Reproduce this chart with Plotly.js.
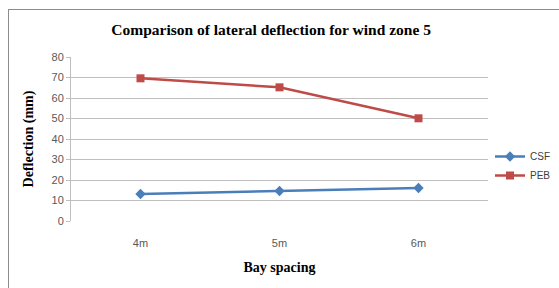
<!DOCTYPE html>
<html><head><meta charset="utf-8">
<script src="https://cdn.plot.ly/plotly-3.0.1.min.js"></script>
<style>
html,body{margin:0;padding:0;background:#fff;overflow:hidden}
#frame{position:absolute;left:8px;top:9px;width:600px;height:300px;border:1px solid #8c8c8c;box-sizing:border-box}
#chart{position:absolute;left:0;top:0;width:559px;height:288px}
</style></head>
<body>
<div id="frame"></div>
<div id="chart"></div>
<script>
const categories = ["4m", "5m", "6m"];
const csfValues = [13.2, 14.6, 16.1];
const pebValues = [69.6, 65.2, 50.1];
const yTicks = [0, 10, 20, 30, 40, 50, 60, 70, 80];

const traces = [
  {x: categories, y: csfValues, name: "CSF", type: "scatter", mode: "lines+markers",
   line: {color: "#4a7ebb", width: 2.5}, marker: {symbol: "diamond", size: 8, color: "#4a7ebb"}},
  {x: categories, y: pebValues, name: "PEB", type: "scatter", mode: "lines+markers",
   line: {color: "#be4b48", width: 2.5}, marker: {symbol: "square", size: 8, color: "#be4b48"}}
];

const layout = {
  width: 559, height: 288,
  paper_bgcolor: "rgba(0,0,0,0)", plot_bgcolor: "rgba(0,0,0,0)",
  margin: {l: 71, r: 71, t: 57, b: 67, autoexpand: false},
  title: {text: "<b>Comparison of lateral deflection for wind zone 5</b>",
    font: {family: "Liberation Serif, Times New Roman, serif", size: 15.5, color: "#000"},
    x: 0.485, xanchor: "center", y: 1 - 30/288, yanchor: "middle"},
  xaxis: {type: "category", range: [-0.5, 2.5], showgrid: false, zeroline: false,
    showline: false, ticks: "", ticklabelstandoff: 14,
    tickfont: {family: "Liberation Sans, sans-serif", size: 11, color: "#595959"},
    title: {text: "<b>Bay spacing</b>", font: {family: "Liberation Serif, serif", size: 14, color: "#000"}, standoff: 14}},
  yaxis: {range: [0, 80], tickvals: yTicks, showgrid: true, gridcolor: "#bfbfbf", gridwidth: 1,
    zeroline: false, showline: true, linecolor: "#bfbfbf", ticks: "outside", ticklen: 4, tickcolor: "#bfbfbf",
    tickfont: {family: "Liberation Sans, sans-serif", size: 11, color: "#595959"},
    title: {text: "<b>Deflection (mm)</b>", font: {family: "Liberation Serif, serif", size: 14, color: "#000"}, standoff: 14}},
  legend: {xref: "container", yref: "container", x: 490/559, y: 1 - 166/288, xanchor: "left", yanchor: "middle",
    bgcolor: "rgba(0,0,0,0)",
    font: {family: "Liberation Sans, sans-serif", size: 10, color: "#404040"}, itemwidth: 30},
  showlegend: true
};

Plotly.newPlot("chart", traces, layout, {displayModeBar: false, staticPlot: true});
</script>
</body></html>
